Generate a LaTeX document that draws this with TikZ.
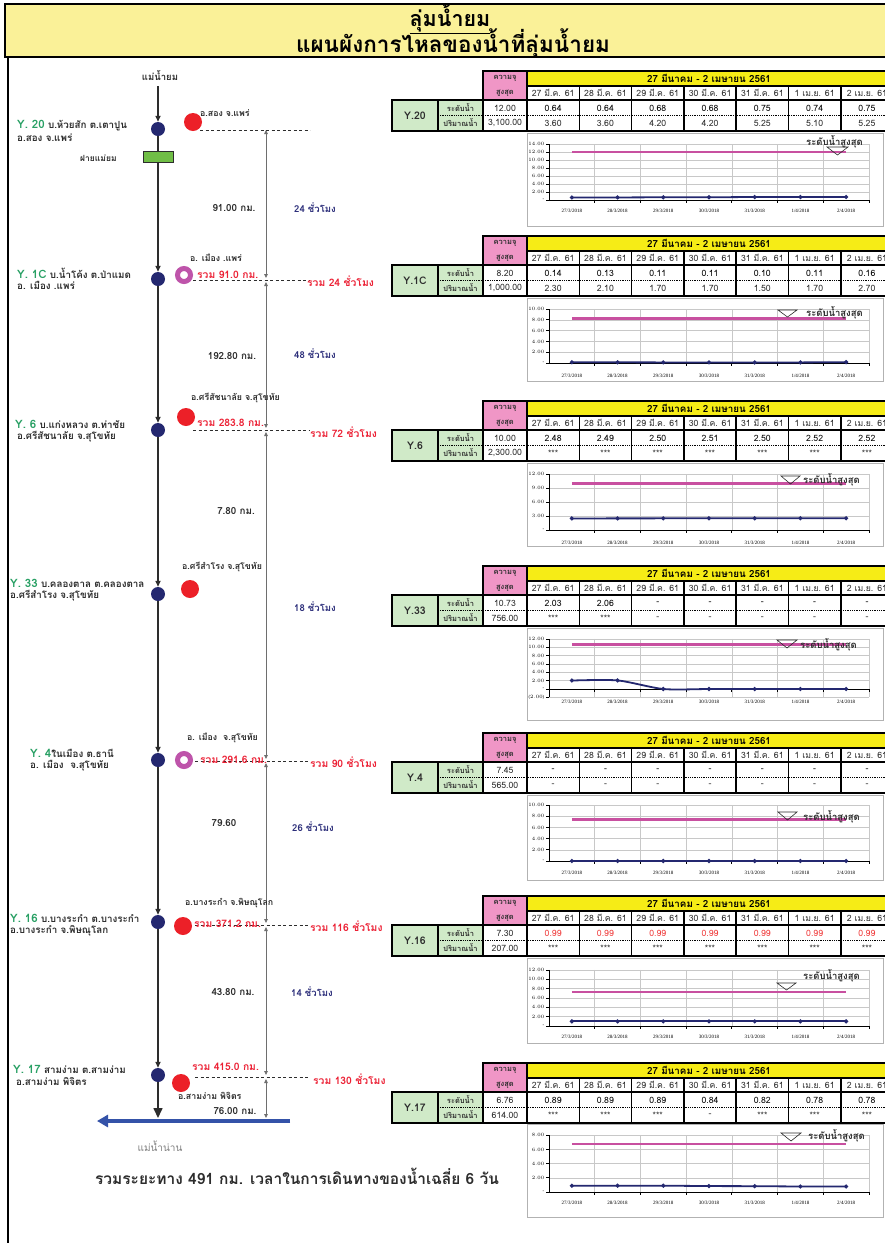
\documentclass[tikz,border=0pt]{standalone}
\usepackage{fontspec}
\setmainfont[Script=Thai]{Loma}
\newfontfamily\chartfont{Liberation Serif}
\usetikzlibrary{arrows.meta}

\definecolor{hdrfill}{RGB}{250,241,152}
\definecolor{tyellow}{RGB}{246,236,22}
\definecolor{tpink}{RGB}{240,150,198}
\definecolor{tgreen}{RGB}{208,234,200}
\definecolor{navy}{RGB}{36,40,112}
\definecolor{redc}{RGB}{236,32,40}
\definecolor{magc}{RGB}{190,84,170}
\definecolor{weirg}{RGB}{112,190,70}
\definecolor{stgreen}{RGB}{40,160,100}
\definecolor{navytxt}{RGB}{44,46,122}
\definecolor{redtxt}{RGB}{236,32,52}
\definecolor{darktxt}{RGB}{45,45,45}
\definecolor{bluearr}{RGB}{52,82,168}
\definecolor{maxlc}{RGB}{200,80,160}
\definecolor{gridc}{RGB}{200,200,200}
\definecolor{valred}{RGB}{240,60,60}
\definecolor{measc}{RGB}{110,110,110}

\tikzset{
  lab/.style={inner sep=0pt, text=darktxt, font=\fontsize{8.8}{10}\selectfont\bfseries},
  wlab/.style={lab, anchor=west},
  stlab/.style={lab, anchor=west, font=\fontsize{9.8}{11}\selectfont\bfseries},
  redl/.style={inner sep=0pt, anchor=west, text=redtxt, font=\fontsize{10.3}{12}\selectfont\bfseries},
  navyl/.style={inner sep=0pt, text=navytxt, font=\fontsize{9.5}{11}\selectfont\bfseries},
  distl/.style={lab, font=\fontsize{9.8}{11}\selectfont\bfseries},
  stdot/.style={circle, fill=navy, minimum size=14pt, inner sep=0pt},
  redcirc/.style={circle, fill=redc, minimum size=18pt, inner sep=0pt},
  ringc/.style={circle, draw=magc, line width=5pt, fill=white, minimum size=13pt, inner sep=0pt},
  weirbox/.style={rectangle, fill=weirg, draw=darktxt, line width=0.6pt, minimum width=30pt, minimum height=11pt, inner sep=0pt},
  river/.style={draw=darktxt, line width=1.6pt, -{Triangle[length=6pt,width=5pt]}},
  riverplain/.style={draw=darktxt, line width=1.6pt},
  meas/.style={draw=measc, line width=0.8pt, {Triangle[length=4pt,width=3.5pt]}-{Triangle[length=4pt,width=3.5pt]}},
  dashl/.style={draw=darktxt, line width=0.6pt, dash pattern=on 3pt off 2.5pt},
  cellb/.style={draw=black, line width=1.6pt},
  outerb/.style={draw=black, line width=2.2pt},
  dotrule/.style={draw=black, line width=1.3pt, dash pattern=on 1pt off 0.8pt},
  pinktxt/.style={inner sep=0pt, text=darktxt, font=\fontsize{7.5}{9}\selectfont\bfseries},
  hdtxt/.style={inner sep=0pt, text=black, font=\fontsize{9.8}{11}\selectfont\bfseries},
  dtxt/.style={inner sep=0pt, text=darktxt, font=\fontsize{8.7}{10}\selectfont},
  rtxt/.style={inner sep=0pt, text=darktxt, font=\fontsize{7.5}{9}\selectfont\bfseries},
  sttxt/.style={inner sep=0pt, text=darktxt, font=\fontsize{10.5}{12}\selectfont\bfseries},
  chartbox/.style={draw=gray!60, line width=0.8pt, fill=white},
  gridl/.style={draw=gridc, line width=0.5pt},
  axisl/.style={draw=black, line width=0.7pt},
  maxl/.style={draw=maxlc, line width=2.8pt},
  bluel/.style={draw=navy, line width=1.8pt, line cap=round, line join=round},
  ticklab/.style={inner sep=0pt, anchor=east, font=\chartfont\fontsize{4.8}{5}\selectfont},
  datelab/.style={inner sep=0pt, font=\chartfont\fontsize{5}{6}\selectfont},
  maxlab/.style={inner sep=0pt, anchor=west, text=darktxt, font=\fontsize{9.5}{10}\selectfont\bfseries},
  tri/.style={draw=darktxt, line width=0.6pt}
}

% #1 top, #2 id, #3 station, #4 cap level, #5 cap flow, #6 levels, #7 flows, #8 level colour
\newcommand\stationtable[8]{%
\begin{scope}[shift={(0,#1)}]
  \fill[tpink] (483,0) rectangle (527,29);
  \fill[tyellow] (527,0) rectangle (892,15);
  \fill[tgreen] (392,29) rectangle (483,60);
  \draw[cellb] (483,0) rectangle (527,29);
  \draw[cellb] (527,0) rectangle (892,15);
  \foreach \i in {0,...,6}{
    \draw[cellb] ({527+52.3*\i},15) rectangle ({527+52.3*(\i+1)},60);
  }
  \draw[cellb] (392,29) rectangle (438,60);
  \draw[cellb] (438,29) rectangle (483,60);
  \draw[cellb] (483,29) rectangle (527,60);
  \draw[dotrule] (438,44.5) -- (892,44.5);
  \draw[outerb] (392,29) rectangle (892,60);
  \node[pinktxt] (#2p1) at (505,7.5) {ความจุ};
  \node[pinktxt] (#2p2) at (505,22) {สูงสุด};
  \node[hdtxt] (#2hd) at (709,7.5) {27 มีนาคม - 2 เมษายน 2561};
  \foreach \d [count=\c] in {27 มี.ค. 61,28 มี.ค. 61,29 มี.ค. 61,30 มี.ค. 61,31 มี.ค. 61,1 เม.ย. 61,2 เม.ย. 61}{
    \node[dtxt] (#2d\c) at ({527+52.3*(\c-0.5)},22) {\d};
  }
  \node[sttxt] (#2st) at (415,44.5) {#3};
  \node[rtxt] (#2r1) at (460.5,37) {ระดับน้ำ};
  \node[rtxt] (#2r2) at (460.5,52) {ปริมาณน้ำ};
  \node[dtxt] (#2c1) at (505,37) {#4};
  \node[dtxt] (#2c2) at (505,52) {#5};
  \foreach \v [count=\c] in {#6}{
    \node[dtxt, text=#8] (#2l\c) at ({527+52.3*(\c-0.5)},37) {\v};
  }
  \foreach \v [count=\c] in {#7}{
    \node[dtxt] (#2f\c) at ({527+52.3*(\c-0.5)},52) {\v};
  }
\end{scope}}

\newcommand\chartframe[2]{\draw[chartbox] (527,#1) rectangle (883,#2);}

% #1 zero y, #2 px per unit, #3 min, #4 max, #5 step, #6 max level, #7 values, #8 x-label y
\newcommand\chartplot[8]{%
  \pgfmathsetmacro\cptop{#1-#4*#2}
  \pgfmathsetmacro\cpbot{#1-#3*#2}
  \pgfmathtruncatemacro\cpn{round((#4-#3)/#5)}
  \foreach \k in {0,...,\cpn}{
    \pgfmathsetmacro\cptv{#3+\k*#5}
    \pgfmathsetmacro\cpty{#1-\cptv*#2}
    \draw[gridl] (549,\cpty) -- (869,\cpty);
    \draw[axisl] (546,\cpty) -- (549,\cpty);
    \ifdim\cptv pt=0pt \def\cptl{-}\else
      \ifdim\cptv pt<0pt \pgfmathsetmacro\cpav{-\cptv}\def\cptl{(\pgfmathprintnumber[fixed,precision=2,fixed zerofill]{\cpav})}%
      \else \def\cptl{\pgfmathprintnumber[fixed,precision=2,fixed zerofill]{\cptv}}\fi
    \fi
    \node[ticklab] at (544.5,\cpty) {\cptl};
  }
  \foreach \c in {1,...,7}{
    \draw[gridl] ({549+45.71*\c},\cptop) -- ({549+45.71*\c},\cpbot);
    \draw[axisl] ({549+45.71*\c},#1) -- ({549+45.71*\c},#1+3);
  }
  \draw[axisl] (549,\cptop) -- (549,\cpbot);
  \draw[axisl] (549,#1) -- (869,#1);
  \foreach \dd/\mm [count=\c] in {27/3,28/3,29/3,30/3,31/3,1/4,2/4}{
    \node[datelab] at ({549+45.71*(\c-0.5)},#8) {\dd/\mm/2018};
  }
  \draw[maxl] (571.9,{#1-#6*#2}) -- (846.1,{#1-#6*#2});
  \gdef\cppts{}
  \foreach \v [count=\c] in {#7}{
    \pgfmathsetmacro\cpx{549+45.71*(\c-0.5)}
    \pgfmathsetmacro\cpy{#1-\v*#2}
    \xdef\cppts{\cppts (\cpx,\cpy)}
  }
  \edef\cpdraw{\noexpand\draw[bluel] plot[smooth,tension=0.45] coordinates {\cppts};}
  \cpdraw
  \foreach \v [count=\c] in {#7}{
    \fill[navy] ({549+45.71*(\c-0.5)},{#1-\v*#2}) +(0,-2.3) -- +(2.3,0) -- +(0,2.3) -- +(-2.3,0) -- cycle;
  }
}

\begin{document}
\begin{tikzpicture}[x=1pt,y=-1pt]
\useasboundingbox (0,0) rectangle (885,1243);
\clip (0,0) rectangle (885,1243);
\fill[white] (0,0) rectangle (885,1243);

% header
\fill[hdrfill] (5,4) rectangle (892,57);
\draw[line width=2pt] (5,4) rectangle (892,57);
\draw[line width=2pt] (8,57) -- (8,1250);
\node[inner sep=0pt, font=\fontsize{21.5}{23}\selectfont\bfseries] (ttl1) at (450,19) {\underline{ลุ่มน้ำยม}};
\node[inner sep=0pt, font=\fontsize{22.5}{24}\selectfont\bfseries] (ttl2) at (453,44) {แผนผังการไหลของน้ำที่ลุ่มน้ำยม};

% ---------- tables ----------
\stationtable{71}{ta}{Y.20}{12.00}{3,100.00}{0.64,0.64,0.68,0.68,0.75,0.74,0.75}{3.60,3.60,4.20,4.20,5.25,5.10,5.25}{black}
\stationtable{236}{tb}{Y.1C}{8.20}{1,000.00}{0.14,0.13,0.11,0.11,0.10,0.11,0.16}{2.30,2.10,1.70,1.70,1.50,1.70,2.70}{black}
\stationtable{401}{tc}{Y.6}{10.00}{2,300.00}{2.48,2.49,2.50,2.51,2.50,2.52,2.52}{***,***,***,***,***,***,***}{black}
\stationtable{566}{td}{Y.33}{10.73}{756.00}{2.03,2.06,-,-,-,-,-}{***,***,-,-,-,-,-}{black}
\stationtable{733}{te}{Y.4}{7.45}{565.00}{-,-,-,-,-,-,-}{-,-,-,-,-,-,-}{black}
\stationtable{896}{tf}{Y.16}{7.30}{207.00}{0.99,0.99,0.99,0.99,0.99,0.99,0.99}{***,***,***,***,***,***,***}{valred}
\stationtable{1063}{tg}{Y.17}{6.76}{614.00}{0.89,0.89,0.89,0.84,0.82,0.78,0.78}{***,***,***,-,***,***,***}{black}

% ---------- charts ----------
\chartframe{133}{226}
\chartplot{200}{4}{0}{14}{2}{12}{0.64,0.64,0.68,0.68,0.75,0.74,0.75}{211}
\draw[tri] (827,147) -- (848,147) -- (837.5,155) -- cycle;
\node[maxlab] (mxa) at (806,142) {ระดับน้ำสูงสุด};

\chartframe{298}{381}
\chartplot{363}{5.4}{0}{10}{2}{8.2}{0.14,0.13,0.11,0.11,0.10,0.11,0.16}{376}
\draw[tri] (778,310) -- (797,310) -- (787.5,317) -- cycle;
\node[maxlab] (mxb) at (806,313) {ระดับน้ำสูงสุด};

\chartframe{463}{546}
\chartplot{530}{4.667}{0}{12}{3}{10}{2.48,2.49,2.50,2.51,2.50,2.52,2.52}{543}
\draw[tri] (781,476) -- (800,476) -- (790.5,484) -- cycle;
\node[maxlab] (mxc) at (803,480) {ระดับน้ำสูงสุด};

\chartframe{628}{720}
\chartplot{689}{4.17}{-2}{12}{2}{10.73}{2.03,2.06,0,0,0,0,0}{702}
\draw[tri] (777,640) -- (797,640) -- (787,648) -- cycle;
\node[maxlab] (mxd) at (800,645) {ระดับน้ำสูงสุด};

\chartframe{795}{880}
\chartplot{861}{5.6}{0}{10}{2}{7.45}{0,0,0,0,0,0,0}{873}
\draw[tri] (778,812) -- (797,812) -- (787.5,820) -- cycle;
\node[maxlab] (mxe) at (803,817) {ระดับน้ำสูงสุด};

\chartframe{958}{1043}
\chartplot{1026}{4.67}{0}{12}{2}{7.30}{0.99,0.99,0.99,0.99,0.99,0.99,0.99}{1037}
\draw[tri] (777,983) -- (796,983) -- (786.5,990) -- cycle;
\node[maxlab] (mxf) at (803,976) {ระดับน้ำสูงสุด};

\chartframe{1124}{1217}
\chartplot{1192}{7.1}{0}{8}{2}{6.76}{0.89,0.89,0.89,0.84,0.82,0.78,0.78}{1203}
\draw[tri] (781,1133) -- (801,1133) -- (791,1141) -- cycle;
\node[maxlab] (mxg) at (808,1136) {ระดับน้ำสูงสุด};

% ---------- river ----------
\node[lab, font=\fontsize{9.5}{10}\selectfont\bfseries] (srcl) at (160,75) {แม่น้ำยม};
\coordinate (src) at (158,86);
\node[stdot] (s20) at (158,129) {};
\node[weirbox] (weir) at (158,157) {};
\node[stdot] (s1c) at (158,279) {};
\node[stdot] (s6) at (158,430) {};
\node[stdot] (s33) at (158,594) {};
\node[stdot] (s4) at (158,760) {};
\node[stdot] (s16) at (158,922) {};
\node[stdot] (s17) at (158,1075) {};
\coordinate (rend) at (158,1118);
\draw[river] (src) -- (s20);
\draw[riverplain] (s20) -- (weir);
\draw[river] (weir) -- (s1c);
\draw[river] (s1c) -- (s6);
\draw[river] (s6) -- (s33);
\draw[river] (s33) -- (s4);
\draw[river] (s4) -- (s16);
\draw[river] (s16) -- (s17);
\draw[draw=darktxt, line width=1.6pt, -{Triangle[length=10pt,width=9pt]}] (s17) -- (rend);
\node[lab, font=\fontsize{8.5}{9}\selectfont\bfseries, anchor=west] (weirl) at (80,158) {ฝายแม่ยม};

% Nan river
\coordinate (nanR) at (290,1121);
\coordinate (nanL) at (97,1121);
\draw[draw=bluearr, line width=4pt, -{Triangle[length=11pt,width=12pt]}] (nanR) -- (nanL);
\node[inner sep=0pt, text=gray, font=\fontsize{10}{12}\selectfont] (nanl) at (160,1146) {แม่น้ำน่าน};
\node[inner sep=0pt, text=darktxt, font=\fontsize{15.5}{17}\selectfont\bfseries] (total) at (297,1176) {รวมระยะทาง 491 กม. เวลาในการเดินทางของน้ำเฉลี่ย 6 วัน};

% ---------- measurement line ----------
\coordinate (m1a) at (266,130);  \coordinate (m1b) at (266,278);
\coordinate (m2a) at (266,282);  \coordinate (m2b) at (266,428);
\coordinate (m3a) at (266,432);  \coordinate (m3b) at (266,759);
\coordinate (m4a) at (266,763);  \coordinate (m4b) at (266,923);
\coordinate (m5a) at (266,927);  \coordinate (m5b) at (266,1075);
\coordinate (m6a) at (266,1079); \coordinate (m6b) at (266,1118);
\draw[meas] (m1a) -- (m1b);
\draw[meas] (m2a) -- (m2b);
\draw[meas] (m3a) -- (m3b);
\draw[meas] (m4a) -- (m4b);
\draw[meas] (m5a) -- (m5b);
\draw[meas] (m6a) -- (m6b);

% ---------- station marks ----------
\node[redcirc] (c20) at (193,122) {};
\node[ringc] (c1c) at (184,275) {};
\node[redcirc] (c6) at (186,417) {};
\node[redcirc] (c33) at (190,589) {};
\node[ringc] (c4) at (184,760) {};
\node[redcirc] (c16) at (183,926) {};
\node[redcirc] (c17) at (181,1083) {};

% dashed level lines
\coordinate (d20a) at (200,130);  \coordinate (d20b) at (310,130);
\coordinate (d1ca) at (193,280);  \coordinate (d1cb) at (310,280);
\coordinate (d6a) at (193,430);   \coordinate (d6b) at (310,430);
\coordinate (d4a) at (195,761);   \coordinate (d4b) at (310,761);
\coordinate (d16a) at (195,925);  \coordinate (d16b) at (310,925);
\coordinate (d17a) at (195,1077); \coordinate (d17b) at (310,1077);
\draw[dashl] (d20a) -- (d20b);
\draw[dashl] (d1ca) -- (d1cb);
\draw[dashl] (d6a) -- (d6b);
\draw[dashl] (d4a) -- (d4b);
\draw[dashl] (d16a) -- (d16b);
\draw[dashl] (d17a) -- (d17b);

% ---------- labels ----------
% Y.20
\node[stlab] (l20a) at (17,126) {{\color{stgreen}\fontsize{11.5}{13}\selectfont Y. 20} บ.ห้วยสัก ต.เตาปูน};
\node[stlab] (l20b) at (17,138) {อ.สอง จ.แพร่};
\node[wlab] (a20) at (200,113) {อ.สอง จ.แพร่};
\node[distl] (k1) at (234,208) {91.00 กม.};
\node[navyl] (h1) at (315,208) {24 ชั่วโมง};
% Y.1C
\node[stlab] (l1ca) at (17,273) {{\color{stgreen}\fontsize{11.5}{13}\selectfont Y. 1C} บ.น้ำโค้ง ต.ป่าแมด};
\node[stlab] (l1cb) at (17,285) {อ. เมือง .แพร่};
\node[wlab] (a1c) at (190,258) {อ. เมือง .แพร่};
\node[redl] (r1c) at (197,275) {รวม 91.0 กม.};
\node[redl] (q1c) at (307,281) {รวม 24 ชั่วโมง};
\node[distl] (k2) at (232,356) {192.80 กม.};
\node[navyl] (h2) at (315,354) {48 ชั่วโมง};
% Y.6
\node[stlab] (l6a) at (15,424) {{\color{stgreen}\fontsize{11.5}{13}\selectfont Y. 6} บ.แก่งหลวง ต.ท่าชัย};
\node[stlab] (l6b) at (17,437) {อ.ศรีสัชนาลัย จ.สุโขทัย};
\node[wlab] (a6) at (191,398) {อ.ศรีสัชนาลัย จ.สุโขทัย};
\node[redl] (r6) at (197,423) {รวม 283.8 กม.};
\node[redl] (q6) at (310,432) {รวม 72 ชั่วโมง};
\node[distl] (k3) at (236,511) {7.80 กม.};
% Y.33
\node[stlab] (l33a) at (10,583) {{\color{stgreen}\fontsize{11.5}{13}\selectfont Y. 33} บ.คลองตาล ต.คลองตาล};
\node[stlab] (l33b) at (10,596) {อ.ศรีสำโรง จ.สุโขทัย};
\node[wlab] (a33) at (182,567) {อ.ศรีสำโรง จ.สุโขทัย};
\node[navyl] (h3) at (315,607) {18 ชั่วโมง};
% Y.4
\node[stlab] (l4a) at (30,753) {{\color{stgreen}\fontsize{11.5}{13}\selectfont Y. 4}ในเมือง ต.ธานี};
\node[stlab] (l4b) at (30,766) {อ. เมือง\ \ จ.สุโขทัย};
\node[wlab] (a4) at (187,738) {อ. เมือง\ \ จ.สุโขทัย};
\node[redl] (r4) at (200,760) {รวม 291.6 กม.};
\node[redl] (q4) at (310,762) {รวม 90 ชั่วโมง};
\node[distl] (k4) at (224,823) {79.60};
\node[navyl] (h4) at (313,827) {26 ชั่วโมง};
% Y.16
\node[stlab] (l16a) at (10,918) {{\color{stgreen}\fontsize{11.5}{13}\selectfont Y. 16} บ.บางระกำ ต.บางระกำ};
\node[stlab] (l16b) at (10,931) {อ.บางระกำ จ.พิษณุโลก};
\node[wlab] (a16) at (185,903) {อ.บางระกำ จ.พิษณุโลก};
\node[redl] (r16) at (194,924) {รวม 371.2 กม.};
\node[redl] (q16) at (310,926) {รวม 116 ชั่วโมง};
\node[distl] (k5) at (233,992) {43.80 กม.};
\node[navyl] (h5) at (312,992) {14 ชั่วโมง};
% Y.17
\node[stlab] (l17a) at (13,1069) {{\color{stgreen}\fontsize{11.5}{13}\selectfont Y. 17} สามง่าม ต.สามง่าม};
\node[stlab] (l17b) at (16,1081) {อ.สามง่าม พิจิตร};
\node[redl] (r17) at (192,1067) {รวม 415.0 กม.};
\node[redl] (q17) at (313,1079) {รวม 130 ชั่วโมง};
\node[wlab] (a17) at (178,1096) {อ.สามง่าม พิจิตร};
\node[distl] (k6) at (235,1111) {76.00 กม.};

\end{tikzpicture}
\end{document}
